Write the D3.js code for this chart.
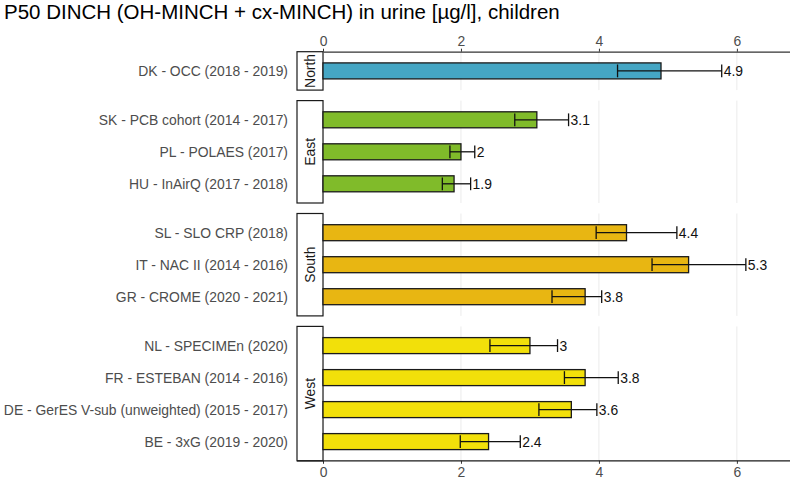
<!DOCTYPE html>
<html>
<head>
<meta charset="utf-8">
<script src="https://cdnjs.cloudflare.com/ajax/libs/d3/7.8.5/d3.min.js"></script>
<style>
  body { margin: 0; background: #fff; }
  svg { font-family: "Liberation Sans", Arial, sans-serif; }
</style>
</head>
<body>
<div id="chart"></div>
<script>
// data
const regions = ["North", "East", "South", "West"];
const regionColors = ["#45a6c4", "#80bb2a", "#e8b612", "#f2e00a"];
const studies = [
  "DK - OCC (2018 - 2019)",
  "SK - PCB cohort (2014 - 2017)", "PL - POLAES (2017)", "HU - InAirQ (2017 - 2018)",
  "SL - SLO CRP (2018)", "IT - NAC II (2014 - 2016)", "GR - CROME (2020 - 2021)",
  "NL - SPECIMEn (2020)", "FR - ESTEBAN (2014 - 2016)",
  "DE - GerES V-sub (unweighted) (2015 - 2017)", "BE - 3xG (2019 - 2020)"
];
const studyRegion = ["North", "East", "East", "East", "South", "South", "South", "West", "West", "West", "West"];
const p50 = [4.9, 3.1, 2, 1.9, 4.4, 5.3, 3.8, 3, 3.8, 3.6, 2.4];
const ciLow = [4.27, 2.78, 1.84, 1.73, 3.96, 4.77, 3.32, 2.42, 3.5, 3.13, 1.99];
const ciHigh = [5.78, 3.56, 2.2, 2.14, 5.13, 6.13, 4.04, 3.4, 4.28, 3.97, 2.86];
const xTicks = [0, 2, 4, 6];

const rows = studies.map((s, i) => ({
  study: s, region: studyRegion[i], value: p50[i], lo: ciLow[i], hi: ciHigh[i]
}));

const W = 790, H = 482;
const plotLeft = 323, plotRight = 790;
const stripLeft = 297;
const top0 = 51.7, unit = 32.0, gap = 10.5;
const fs = 13.9;

const svg = d3.select("#chart").append("svg")
  .attr("width", W).attr("height", H);

const color = d3.scaleOrdinal().domain(regions).range(regionColors);
const x = d3.scaleLinear().domain([0, 6.77]).range([plotLeft, plotRight]);

// title
svg.append("text")
  .attr("x", 4).attr("y", 18.5)
  .attr("font-size", 20.5)
  .attr("fill", "#000")
  .text("P50 DINCH (OH-MINCH + cx-MINCH) in urine [µg/l], children");

// panels
let yTop = top0;
const panels = regions.map(r => {
  const items = rows.filter(d => d.region === r);
  const h = (items.length + 0.2) * unit;
  const p = { region: r, items: items, top: yTop, bottom: yTop + h };
  yTop += h + gap;
  return p;
});
const plotBottom = panels[panels.length - 1].bottom;

panels.forEach(p => {
  const y = d3.scalePoint()
    .domain(p.items.map(d => d.study))
    .range([p.top, p.bottom])
    .padding(0.6);
  const barH = y.step() * 0.5;
  const capH = y.step() * 0.4;
  const g = svg.append("g");

  // gridlines
  g.selectAll(".grid").data(xTicks).enter().append("line")
    .attr("x1", d => x(d)).attr("x2", d => x(d))
    .attr("y1", p.top).attr("y2", p.bottom)
    .attr("stroke", "#ebebeb").attr("stroke-width", 1);

  // strip
  g.append("rect")
    .attr("x", stripLeft).attr("y", p.top)
    .attr("width", plotLeft - stripLeft).attr("height", p.bottom - p.top)
    .attr("fill", "#fff").attr("stroke", "#1a1a1a").attr("stroke-width", 1.2);
  g.append("text")
    .attr("transform", `translate(${(stripLeft + plotLeft) / 2 + 4.8},${(p.top + p.bottom) / 2}) rotate(-90)`)
    .attr("text-anchor", "middle")
    .attr("font-size", fs)
    .attr("fill", "#1a1a1a")
    .text(p.region);

  // category labels
  g.selectAll(".lab").data(p.items).enter().append("text")
    .attr("x", 288).attr("y", d => y(d.study) + 4.9)
    .attr("text-anchor", "end")
    .attr("font-size", fs)
    .attr("fill", "#4d4d4d")
    .text(d => d.study);

  // bars
  g.selectAll(".bar").data(p.items).enter().append("rect")
    .attr("x", x(0))
    .attr("y", d => y(d.study) - barH / 2)
    .attr("width", d => x(d.value) - x(0))
    .attr("height", barH)
    .attr("fill", d => color(d.region))
    .attr("stroke", "#1a1a1a").attr("stroke-width", 1.3);

  // error bars
  g.selectAll(".err").data(p.items).enter().append("line")
    .attr("x1", d => x(d.lo)).attr("x2", d => x(d.hi))
    .attr("y1", d => y(d.study)).attr("y2", d => y(d.study))
    .attr("stroke", "#111").attr("stroke-width", 1.3);
  ["lo", "hi"].forEach(k => {
    g.selectAll(".cap" + k).data(p.items).enter().append("line")
      .attr("x1", d => x(d[k])).attr("x2", d => x(d[k]))
      .attr("y1", d => y(d.study) - capH / 2).attr("y2", d => y(d.study) + capH / 2)
      .attr("stroke", "#111").attr("stroke-width", 1.3);
  });

  // value labels
  g.selectAll(".val").data(p.items).enter().append("text")
    .attr("x", d => x(d.hi) + 2).attr("y", d => y(d.study) + 4.9)
    .attr("font-size", fs)
    .attr("fill", "#111")
    .text(d => d3.format("~g")(d.value));
});

// top axis
const topAxis = svg.append("g")
  .attr("transform", `translate(0,${top0})`)
  .call(d3.axisTop(x).tickValues(xTicks).tickFormat(d3.format("d")).tickSize(3).tickSizeOuter(0));
// bottom axis
const botAxis = svg.append("g")
  .attr("transform", `translate(0,${plotBottom})`)
  .call(d3.axisBottom(x).tickValues(xTicks).tickFormat(d3.format("d")).tickSize(3).tickSizeOuter(0));

[topAxis, botAxis].forEach(a => {
  a.select(".domain").attr("stroke", "#333").attr("stroke-width", 1.2);
  a.selectAll(".tick line").attr("stroke", "#333");
  a.selectAll(".tick text")
    .attr("font-size", fs)
    .attr("font-family", "Liberation Sans, Arial, sans-serif")
    .attr("fill", "#4d4d4d");
});
botAxis.select(".domain").remove();
botAxis.append("line")
  .attr("x1", stripLeft).attr("x2", plotRight)
  .attr("y1", 0).attr("y2", 0)
  .attr("stroke", "#1a1a1a").attr("stroke-width", 1.3);
</script>
</body>
</html>
